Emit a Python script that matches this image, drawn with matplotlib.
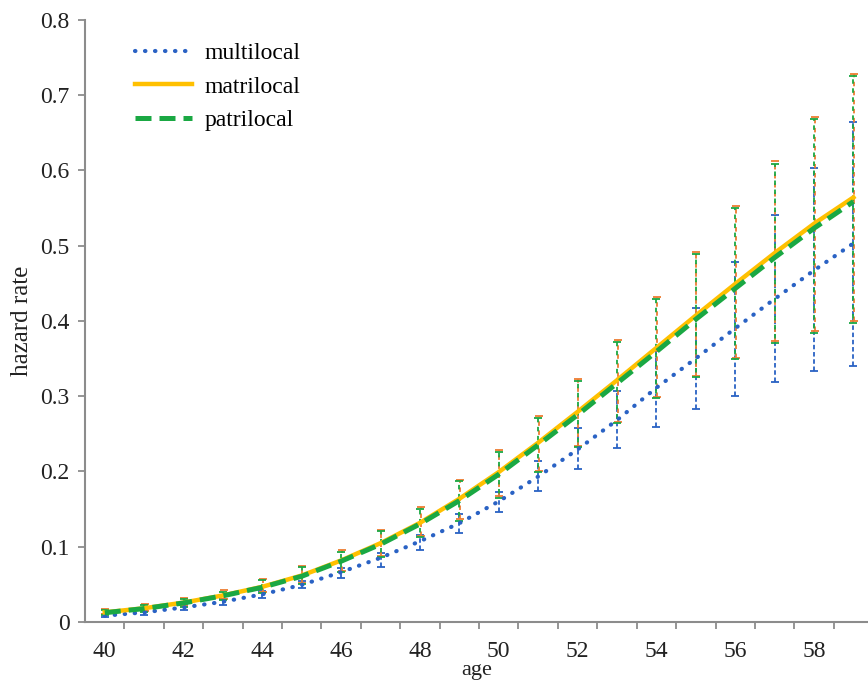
import numpy as np
import matplotlib
matplotlib.use("Agg")
import matplotlib.pyplot as plt
from matplotlib.ticker import FixedLocator

plt.rcParams['font.family'] = ['Liberation Serif', 'DejaVu Serif']

# Edades (eje categórico)
ages = list(range(40, 60))

# Tasas de riesgo por tipo de residencia
multilocal = [0.008, 0.0125, 0.019, 0.0266, 0.0365, 0.049, 0.066, 0.085, 0.107, 0.131,
              0.160, 0.193, 0.229, 0.268, 0.311, 0.350, 0.390, 0.429, 0.467, 0.503]
matrilocal = [0.0125, 0.018, 0.0255, 0.035, 0.0465, 0.0615, 0.0815, 0.1045, 0.1315, 0.1635,
              0.199, 0.238, 0.279, 0.321, 0.364, 0.407, 0.449, 0.490, 0.529, 0.564]
patrilocal = [0.012, 0.0175, 0.025, 0.0345, 0.0458, 0.0605, 0.0805, 0.103, 0.130, 0.161,
              0.196, 0.235, 0.275, 0.317, 0.359, 0.402, 0.443, 0.484, 0.523, 0.5585]

# Intervalos (límite superior / inferior)
multi_up = [0.010, 0.015, 0.022, 0.030, 0.041, 0.054, 0.072, 0.092, 0.115, 0.143,
            0.172, 0.214, 0.258, 0.307, 0.3604, 0.4176, 0.4787, 0.540, 0.6037, 0.6636]
multi_lo = [0.006, 0.009, 0.015, 0.022, 0.032, 0.045, 0.0577, 0.0731, 0.0953, 0.118,
            0.1463, 0.1735, 0.2035, 0.2306, 0.2585, 0.2824, 0.3005, 0.318, 0.333, 0.3404]
matri_up = [0.017, 0.023, 0.031, 0.042, 0.057, 0.074, 0.095, 0.1225, 0.153, 0.189,
            0.228, 0.2735, 0.3225, 0.375, 0.4315, 0.4915, 0.553, 0.612, 0.671, 0.728]
matri_lo = [0.010, 0.014, 0.021, 0.030, 0.040, 0.052, 0.068, 0.088, 0.114, 0.136,
            0.167, 0.201, 0.234, 0.266, 0.299, 0.327, 0.351, 0.3725, 0.3863, 0.3996]
patri_up = [0.016, 0.022, 0.030, 0.040, 0.0555, 0.0723, 0.093, 0.1206, 0.1505, 0.1865,
            0.2255, 0.2708, 0.3195, 0.372, 0.4285, 0.4885, 0.550, 0.609, 0.668, 0.725]
patri_lo = [0.009, 0.013, 0.020, 0.029, 0.038, 0.050, 0.0665, 0.0865, 0.112, 0.134,
            0.165, 0.199, 0.232, 0.264, 0.297, 0.325, 0.349, 0.3705, 0.3843, 0.3976]

x_labels = [40, 42, 44, 46, 48, 50, 52, 54, 56, 58]
y_ticks = [0, 0.1, 0.2, 0.3, 0.4, 0.5, 0.6, 0.7, 0.8]
y_labels = ['0', '0.1', '0.2', '0.3', '0.4', '0.5', '0.6', '0.7', '0.8']

blue = '#2a62c4'
yellow = '#ffc000'
green = '#1aa843'
orange = '#ed7d31'

fig = plt.figure(figsize=(8.68, 6.84), dpi=100)
ax = fig.add_axes([0.098, 0.091, 0.902, 0.880])

x = np.array(ages)


def error_bars(vals, up, lo, color, dashes, dx=0.0):
    vals = np.array(vals)
    yerr = [vals - np.array(lo), np.array(up) - vals]
    eb = ax.errorbar(x + dx, vals, yerr=yerr, fmt='none', ecolor=color,
                     elinewidth=1.3, capsize=3, capthick=1.3, zorder=2)
    for col in eb[2]:
        col.set_linestyle(dashes)
    return eb


# Barras de error (naranja y verde entrelazadas)
error_bars(multilocal, multi_up, multi_lo, blue, (0, (2.5, 1.5)))
error_bars(matrilocal, matri_up, matri_lo, orange, (0, (2.5, 2.5)), dx=0.015)
error_bars(patrilocal, patri_up, patri_lo, green, (2.5, (2.5, 2.5)))

# Curvas
ax.plot(x, multilocal, color=blue, lw=3, linestyle=(0, (0.1, 2.3)),
        dash_capstyle='round', label='multilocal', zorder=3)
ax.plot(x, matrilocal, color=yellow, lw=3.2, label='matrilocal', zorder=4)
ax.plot(x, patrilocal, color=green, lw=3.6, linestyle=(0, (3.2, 1.6)),
        label='patrilocal', zorder=5)

# Ejes
ax.set_xlim(39.5, 59.37)
ax.set_ylim(0, 0.8)
ax.set_xticks(x_labels)
ax.set_xticklabels([str(v) for v in x_labels])
ax.xaxis.set_minor_locator(FixedLocator(np.arange(40.5, 59.5, 1.0)))
ax.tick_params(axis='x', which='major', length=0, pad=14, labelsize=17, labelcolor='#222222')
ax.tick_params(axis='x', which='minor', length=5, width=1.3, color='#8c8c8c')
ax.set_yticks(y_ticks)
ax.set_yticklabels(y_labels)
ax.tick_params(axis='y', length=5, width=1.3, color='#8c8c8c', pad=6,
               labelsize=17, labelcolor='#222222')

for side in ['top', 'right']:
    ax.spines[side].set_visible(False)
for side in ['left', 'bottom']:
    ax.spines[side].set_color('#8c8c8c')
    ax.spines[side].set_linewidth(1.5)

ax.set_xlabel('age', fontsize=16, color='#222222', labelpad=-1)
ax.set_ylabel('hazard rate', fontsize=18, color='#222222', labelpad=5)

ax.legend(loc='upper left', bbox_to_anchor=(0.064, 0.962), frameon=False,
          fontsize=17, handlelength=2.4, handletextpad=0.55, labelspacing=0.5,
          borderaxespad=0, borderpad=0)

fig.savefig('out.png', dpi=100)
